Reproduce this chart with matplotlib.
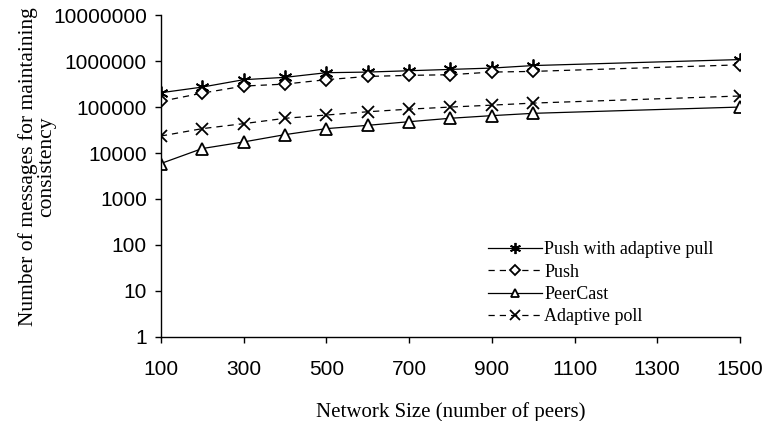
import numpy as np
import matplotlib.pyplot as plt
from matplotlib.ticker import FixedLocator, FuncFormatter

# network sizes (number of peers)
sizes = [100, 200, 300, 400, 500, 600, 700, 800, 900, 1000, 1500]

# messages needed to keep replicas consistent
push_adaptive_pull = [205000, 272000, 394000, 443000, 559000, 577000, 617000, 660000, 705000, 800000, 1080000]
push = [133000, 201000, 286000, 316000, 394000, 464000, 489000, 506000, 577000, 597000, 830000]
peercast = [5900, 12500, 17400, 25100, 33900, 40000, 48000, 57000, 65000, 73000, 100000]
adaptive_poll = [23400, 33900, 43500, 56900, 67000, 79000, 90000, 100000, 110000, 122000, 174000]

yticks = [1, 10, 100, 1000, 10000, 100000, 1000000, 10000000]
xticks = [100, 300, 500, 700, 900, 1100, 1300, 1500]

serif = 'Liberation Serif'
sans = 'Liberation Sans'

fig = plt.figure(figsize=(7.66, 4.21), dpi=100)
ax = fig.add_axes([0.21, 0.2, 0.756, 0.764])

lw = 0.9
dash = (0, (5, 4))
ax.plot(sizes, push_adaptive_pull, color='black', lw=lw, marker=(6, 2, 0),
        ms=10, mew=1.3, label='Push with adaptive pull')
ax.plot(sizes, push, color='black', lw=lw, ls=dash, marker='D', ms=6.5,
        mfc='white', mew=1.3, label='Push')
ax.plot(sizes, peercast, color='black', lw=lw, marker='^', ms=8,
        mfc='white', mew=1.3, label='PeerCast')
ax.plot(sizes, adaptive_poll, color='black', lw=lw, ls=dash, marker='x',
        ms=8.5, mew=1.3, label='Adaptive poll')

ax.set_yscale('log')
ax.set_ylim(1, 10000000)
ax.set_xlim(100, 1500)
ax.yaxis.set_major_locator(FixedLocator(yticks))
ax.yaxis.set_minor_locator(FixedLocator([]))
ax.yaxis.set_major_formatter(FuncFormatter(lambda v, p: '%d' % v))
ax.set_xticks(xticks)

for s in ['top', 'right']:
    ax.spines[s].set_visible(False)
for s in ['left', 'bottom']:
    ax.spines[s].set_linewidth(1.0)

ax.tick_params(direction='out', length=4, width=1.0, labelsize=15)
ax.tick_params(axis='y', pad=6)
ax.tick_params(axis='x', pad=13)
for lab in ax.get_xticklabels() + ax.get_yticklabels():
    lab.set_family(sans)

ax.set_xlabel('Network Size (number of peers)', family=serif, fontsize=15, labelpad=16)
ax.set_ylabel('Number of messages for maintaining\nconsistency', family=serif,
              fontsize=15.5, linespacing=0.95)
ax.yaxis.set_label_coords(-0.18, 0.53)

leg = ax.legend(loc='lower right', bbox_to_anchor=(0.983, -0.015), frameon=False,
                prop={'family': serif, 'size': 13}, handlelength=3.0,
                handletextpad=0.15, labelspacing=0.3, markerscale=0.8)

fig.savefig('out.png', dpi=100)
